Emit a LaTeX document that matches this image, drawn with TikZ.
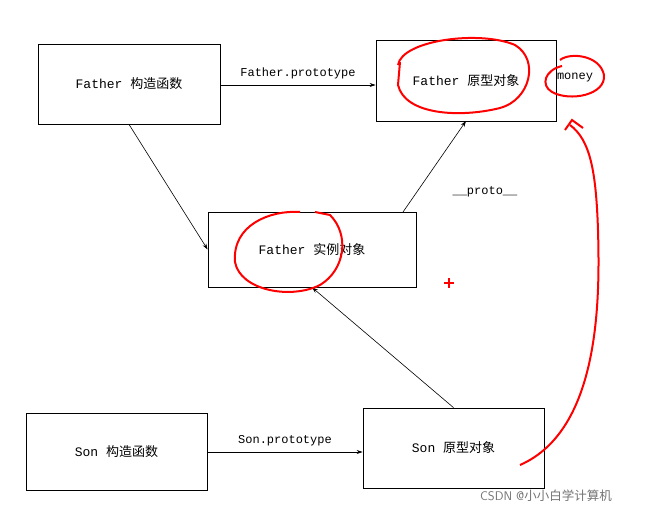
\documentclass[tikz,border=0pt]{standalone}
\usepackage{fontspec}
\setmainfont{Liberation Mono}
\newfontfamily\cjk{Noto Sans CJK SC}
\usetikzlibrary{arrows.meta}
\begin{document}
\begin{tikzpicture}[x=1pt,y=-1pt,
  box/.style={draw,thick,minimum width=#1,inner sep=0pt,font=\fontsize{13}{15}\selectfont},
  conn/.style={-{Stealth[length=6pt,width=4pt]},line width=0.6pt},
  lbl/.style={font=\fontsize{12}{14}\selectfont},
  red1/.style={draw=red,line width=2pt}]
\useasboundingbox (0,0) rectangle (646,513);
\node[box=182pt,minimum height=80pt] (fc) at (129,84) {Father {\cjk 构造函数}};
\node[box=180pt,minimum height=81pt] (fp) at (466,80.5) {Father {\cjk 原型对象}};
\node[box=208pt,minimum height=75pt] (fi) at (312,249.5) {Father {\cjk 实例对象}};
\node[box=181pt,minimum height=77pt] (sc) at (116.5,451.5) {Son {\cjk 构造函数}};
\node[box=181pt,minimum height=80pt] (sp) at (453.5,448) {Son {\cjk 原型对象}};
\node[lbl] (money) at (575,78) {money};
\draw[conn] (fc.east |- 0,85) -- node[lbl,above=2pt] {Father.prototype} (fp.west |- 0,85);
\draw[conn] (fc.south) -- (fi.west);
\draw[conn] (403,212) coordinate (a) -- (466,121) coordinate (b);
\node[lbl] (pl) at (485,192) {\_\_proto\_\_};
\draw[conn] (sp.north) -- (fi.south);
\draw[conn] (sc.east |- 0,452) -- node[lbl,above=2pt] {Son.prototype} (sp.west |- 0,452);
% red annotations
\draw[red1] (398,65) .. controls (402,40) and (480,30) .. (515,45) .. controls (540,60) and (530,100) .. (500,108) .. controls (460,118) and (405,115) .. (398,85) -- (400,62);
\draw[red1] (560,60) .. controls (570,52) and (600,55) .. (604,75) .. controls (606,95) and (570,102) .. (552,92) .. controls (540,85) and (545,70) .. (562,66);
\draw[red1] (300,212) .. controls (270,210) and (232,225) .. (235,262) .. controls (240,290) and (290,300) .. (320,285) .. controls (345,270) and (350,235) .. (330,215) -- (315,212);
\draw[red1] (520,465) .. controls (600,430) and (600,300) .. (598,230) .. controls (596,170) and (590,140) .. (570,125);
\draw[red1] (565,130) -- (572,120) -- (583,128);
\draw[red,line width=1.2pt] (444,283) -- (454,283) (449,278) -- (449,288);
\node[font=\fontsize{12.5}{14}\selectfont\sffamily,text=gray!90!black] (wm) at (546,496) {CSDN @{\cjk 小小白学计算机}};
\end{tikzpicture}
\end{document}
